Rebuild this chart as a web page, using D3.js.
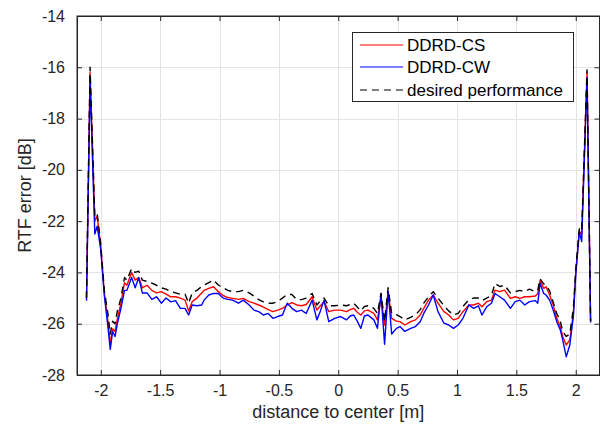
<!DOCTYPE html>
<html><head><meta charset="utf-8">
<script src="https://cdn.jsdelivr.net/npm/d3@7/dist/d3.min.js"></script>
<style>body{margin:0;background:#fff}svg{display:block}text{font-family:"Liberation Sans",Arial,Helvetica,sans-serif}</style>
</head><body><svg id="c" width="600" height="434"></svg>
<script>
const distance = [-2.12,-2.09,-2.05,-2.03,-2.00,-1.97,-1.94,-1.92,-1.90,-1.88,-1.86,-1.83,-1.80,-1.78,-1.74,-1.71,-1.68,-1.65,-1.61,-1.57,-1.53,-1.49,-1.45,-1.41,-1.37,-1.33,-1.29,-1.26,-1.23,-1.19,-1.15,-1.13,-1.09,-1.05,-1.01,-0.97,-0.93,-0.89,-0.84,-0.80,-0.75,-0.71,-0.67,-0.63,-0.59,-0.55,-0.51,-0.47,-0.43,-0.39,-0.35,-0.31,-0.27,-0.22,-0.18,-0.15,-0.12,-0.08,-0.03,0.02,0.07,0.10,0.13,0.16,0.19,0.22,0.25,0.30,0.33,0.36,0.39,0.42,0.45,0.49,0.52,0.56,0.61,0.65,0.69,0.72,0.76,0.80,0.84,0.89,0.93,0.97,1.01,1.05,1.10,1.14,1.18,1.21,1.25,1.29,1.32,1.36,1.40,1.45,1.49,1.53,1.57,1.61,1.66,1.68,1.70,1.73,1.75,1.78,1.81,1.84,1.87,1.89,1.92,1.95,1.98,2.00,2.03,2.05,2.095,2.125];
const ddrdCS = [-25.0,-16.2,-22.0,-21.8,-23.0,-24.8,-25.9,-26.8,-26.2,-26.3,-25.8,-25.2,-24.4,-24.5,-24.0,-24.3,-24.2,-24.6,-24.5,-24.7,-24.8,-24.75,-24.85,-24.95,-24.95,-25.0,-25.08,-25.5,-25.14,-25.0,-24.8,-24.7,-24.62,-24.56,-24.75,-24.9,-24.98,-25.01,-25.05,-25.01,-25.14,-25.2,-25.27,-25.35,-25.45,-25.53,-25.47,-25.4,-25.27,-25.18,-25.27,-25.3,-25.25,-24.95,-25.47,-25.3,-25.14,-25.53,-25.47,-25.47,-25.53,-25.45,-25.4,-25.55,-25.66,-25.5,-25.47,-25.6,-25.85,-24.95,-26.05,-24.75,-25.79,-25.9,-25.92,-26.05,-25.92,-25.85,-25.66,-25.4,-25.08,-24.88,-25.2,-25.53,-25.66,-25.85,-25.79,-25.53,-25.27,-25.27,-25.2,-25.34,-25.14,-25.08,-24.69,-24.75,-24.69,-25.01,-24.95,-25.01,-24.95,-24.95,-24.92,-24.82,-24.3,-24.62,-24.56,-24.88,-25.27,-25.79,-26.11,-26.5,-26.83,-26.63,-25.6,-24.0,-22.4,-22.5,-16.2,-25.9];
const ddrdCW = [-25.1,-16.5,-22.5,-22.2,-23.1,-24.9,-26.1,-27.0,-26.3,-26.5,-26.0,-25.4,-24.7,-24.7,-24.2,-24.6,-24.2,-24.8,-24.8,-25.05,-24.95,-25.2,-25.0,-25.15,-25.1,-25.4,-25.4,-25.66,-25.27,-25.3,-25.27,-25.08,-24.88,-24.82,-24.82,-25.0,-25.05,-25.08,-25.2,-25.08,-25.27,-25.47,-25.53,-25.66,-25.6,-25.79,-25.72,-25.66,-25.2,-25.4,-25.53,-25.47,-25.6,-25.08,-25.85,-25.5,-25.08,-25.92,-25.79,-25.72,-25.85,-25.7,-25.66,-25.9,-26.18,-25.7,-25.66,-25.85,-26.18,-24.82,-26.8,-24.75,-26.4,-26.18,-26.11,-26.3,-26.18,-26.11,-25.92,-25.6,-25.27,-24.88,-25.53,-25.98,-26.05,-26.18,-26.05,-25.79,-25.27,-25.4,-25.3,-25.66,-25.34,-25.2,-24.82,-24.95,-25.08,-25.4,-25.14,-25.08,-25.27,-25.14,-25.1,-25.2,-24.43,-24.82,-24.88,-25.08,-25.47,-25.92,-26.24,-26.63,-27.29,-26.83,-25.7,-24.1,-22.4,-22.8,-16.4,-25.95];
const desired = [-25.0,-16.0,-21.8,-21.7,-22.9,-24.7,-25.6,-26.4,-25.9,-26.0,-25.5,-25.0,-24.2,-24.3,-23.85,-24.0,-23.95,-24.3,-24.35,-24.42,-24.5,-24.6,-24.65,-24.75,-24.8,-24.85,-24.85,-25.2,-24.8,-24.7,-24.55,-24.49,-24.4,-24.3,-24.49,-24.6,-24.7,-24.75,-24.75,-24.7,-24.8,-24.92,-25.06,-25.15,-25.2,-25.2,-25.14,-25.0,-24.86,-24.86,-25.06,-25.06,-25.0,-24.82,-25.27,-25.1,-25.0,-25.3,-25.3,-25.27,-25.3,-25.25,-25.2,-25.35,-25.5,-25.33,-25.3,-25.4,-25.6,-24.82,-25.9,-24.6,-25.6,-25.65,-25.72,-25.85,-25.75,-25.66,-25.45,-25.2,-24.95,-24.75,-25.0,-25.3,-25.5,-25.66,-25.6,-25.33,-25.06,-25.0,-25.0,-25.1,-25.0,-24.9,-24.43,-24.55,-24.5,-24.8,-24.75,-24.7,-24.75,-24.65,-24.75,-24.7,-24.25,-24.45,-24.5,-24.72,-25.15,-25.6,-25.9,-26.3,-26.5,-26.4,-25.4,-23.9,-22.3,-22.4,-16.1,-25.9];
const xTicks = [-2,-1.5,-1,-0.5,0,0.5,1,1.5,2];
const yTicks = [-28,-26,-24,-22,-20,-18,-16,-14];
const seriesNames = ["DDRD-CS","DDRD-CW","desired performance"];
const seriesColors = ["#ff0000","#0000ff","#000000"];

const L=77, R=599.5, T=16, B=375;
const svg = d3.select("#c");
const x = d3.scaleLinear().domain([-2.2,2.2]).range([L,R]);
const y = d3.scaleLinear().domain([-28,-14]).range([B,T]);
const axisCol = "#262626";
const fmt = d => String(d);

// grid
const g = svg.append("g");
g.selectAll(".gx").data(xTicks).join("line").attr("x1",d=>Math.round(x(d))+0.5).attr("x2",d=>Math.round(x(d))+0.5).attr("y1",T).attr("y2",B).attr("stroke","#e3e3e3").attr("stroke-width",1);
g.selectAll(".gy").data(yTicks).join("line").attr("y1",d=>Math.round(y(d))+0.5).attr("y2",d=>Math.round(y(d))+0.5).attr("x1",L).attr("x2",R).attr("stroke","#e3e3e3").attr("stroke-width",1);

// lines
const line = d3.line().x((d,i)=>x(distance[i])).y(d=>y(d));
const sets = [ddrdCS, ddrdCW, desired];
sets.forEach((s,i)=>{
  svg.append("path").datum(s).attr("d",line).attr("fill","none").attr("stroke",seriesColors[i]).attr("stroke-width",1.4)
    .attr("stroke-dasharray", i===2 ? "7,5" : null).attr("stroke-linejoin","round");
});

// axes
const ax = svg.append("g").attr("transform",`translate(0,${B})`).call(d3.axisBottom(x).tickValues(xTicks).tickSizeInner(-5).tickSizeOuter(0).tickPadding(10).tickFormat(fmt));
const ax2 = svg.append("g").attr("transform",`translate(0,${T})`).call(d3.axisTop(x).tickValues(xTicks).tickSizeInner(-5).tickSizeOuter(0).tickFormat(""));
const ay = svg.append("g").attr("transform",`translate(${L},0)`).call(d3.axisLeft(y).tickValues(yTicks).tickSizeInner(-5).tickSizeOuter(0).tickPadding(12).tickFormat(fmt));
const ay2 = svg.append("g").attr("transform",`translate(${R},0)`).call(d3.axisRight(y).tickValues(yTicks).tickSizeInner(-5).tickSizeOuter(0).tickFormat(""));
[ax,ax2,ay,ay2].forEach(a=>{
  a.select(".domain").attr("stroke",axisCol);
  a.selectAll(".tick line").attr("stroke",axisCol);
  a.selectAll("text").attr("fill",axisCol).style("font-size","16px").style("font-family","'Liberation Sans',Arial,sans-serif");
});
svg.append("rect").attr("x",L).attr("y",T).attr("width",R-L).attr("height",B-T).attr("fill","none").attr("stroke",axisCol).attr("stroke-width",1);

svg.append("text").attr("x",(L+R)/2).attr("y",418).attr("text-anchor","middle").attr("fill",axisCol).style("font-size","18px").text("distance to center [m]");
svg.append("text").attr("transform",`translate(31,${(T+B)/2}) rotate(-90)`).attr("text-anchor","middle").attr("fill",axisCol).style("font-size","18px").text("RTF error [dB]");

// legend
const lg = svg.append("g");
lg.append("rect").attr("x",352.5).attr("y",32.5).attr("width",221).attr("height",69).attr("fill","#fff").attr("stroke",axisCol).attr("stroke-width",1);
const ly = [45,67,90];
seriesNames.forEach((n,i)=>{
  lg.append("line").attr("x1",360).attr("x2",403).attr("y1",ly[i]).attr("y2",ly[i]).attr("stroke",seriesColors[i]).attr("stroke-width",1.2).attr("stroke-dasharray", i===2 ? "7,5" : null);
  lg.append("text").attr("x",407).attr("y",ly[i]+6).attr("fill","#000").style("font-size","17px").text(n);
});
</script></body></html>
